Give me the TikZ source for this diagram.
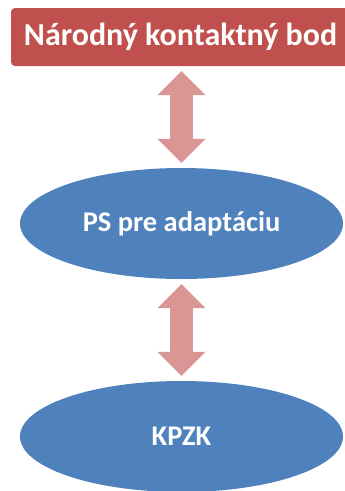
\documentclass[tikz,border=0pt]{standalone}
\usepackage{fontspec}
\setmainfont{Carlito}
\usepackage{xcolor}
\usetikzlibrary{shapes.geometric, arrows.meta}
\definecolor{contactRed}{HTML}{C0504D}
\definecolor{bodyBlue}{HTML}{4F81BD}
\definecolor{linkPink}{HTML}{D99694}

\begin{document}
\begin{tikzpicture}[x=1pt, y=-1pt,
    box/.style={fill=contactRed, rounded corners=4pt, minimum width=339pt, minimum height=58pt,
        text=white, font=\bfseries\fontsize{32}{36}\selectfont},
    oval/.style={ellipse, fill=bodyBlue, minimum width=323pt, minimum height=111pt, inner sep=0pt,
        text=white, font=\bfseries\fontsize{28.5}{32}\selectfont},
    link/.style={draw=linkPink, line width=23pt,
        {Triangle[width=48pt, length=24pt, line width=0pt]}-{Triangle[width=48pt, length=24pt, line width=0pt]},
        shorten <=5pt, shorten >=5pt}]
    \useasboundingbox (0, 0) rectangle (345, 491);

    \node[box] (nkb) at (180.5, 37) {Národný kontaktný bod};
    \node[oval] (ps) at (181.5, 223.5) {PS pre adaptáciu};
    \node[oval] (kpzk) at (181.5, 436.5) {KPZK};

    \draw[link] (nkb.south -| ps.north) -- (ps.north);
    \draw[link] (ps.south) -- (kpzk.north);
\end{tikzpicture}
\end{document}
